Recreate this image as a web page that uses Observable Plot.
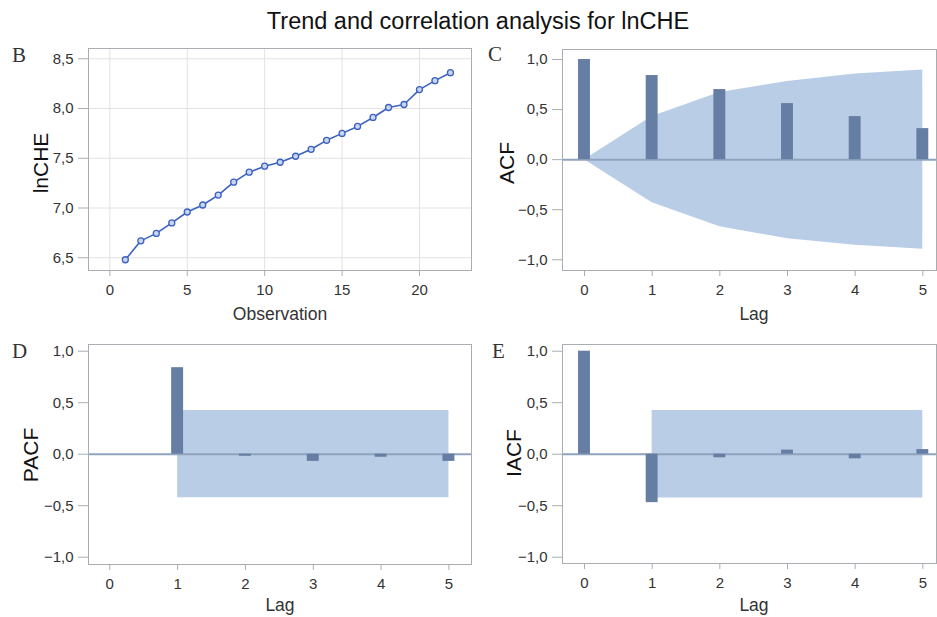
<!DOCTYPE html>
<html><head><meta charset="utf-8">
<script src="https://cdn.jsdelivr.net/npm/d3@7"></script>
<script src="https://cdn.jsdelivr.net/npm/@observablehq/plot@0.6"></script>
<style>
body{margin:0;background:#fff;}
#root{position:relative;width:937px;height:617px;overflow:hidden;background:#fff;}
.panel{position:absolute;}
#overlay{position:absolute;left:0;top:0;pointer-events:none;}
</style>
</head><body>
<div id="root">
  <div class="panel" id="pB" style="left:0px;top:35px"></div>
  <div class="panel" id="pC" style="left:470px;top:35px"></div>
  <div class="panel" id="pD" style="left:0px;top:330px"></div>
  <div class="panel" id="pE" style="left:470px;top:330px"></div>
</div>
<script>
// ---- data ----
const observation = [1,2,3,4,5,6,7,8,9,10,11,12,13,14,15,16,17,18,19,20,21,22];
const lnCHE = [6.48,6.67,6.745,6.85,6.96,7.03,7.13,7.26,7.36,7.42,7.46,7.52,7.59,7.68,7.75,7.82,7.91,8.01,8.04,8.19,8.28,8.36];

const acfLags = [0,1,2,3,4,5];
const acfValues = [1.0,0.84,0.70,0.56,0.43,0.31];
const acfBandUpper = [0,0.43,0.67,0.78,0.855,0.895];
const acfBandLower = [0,-0.43,-0.67,-0.79,-0.855,-0.895];

const pacfLags = [1,2,3,4,5];
const pacfValues = [0.84,-0.02,-0.07,-0.03,-0.07];
const pacfBand = [0.424,0.424,0.424,0.424,0.424];

const iacfLags = [0,1,2,3,4,5];
const iacfValues = [1.0,-0.47,-0.035,0.04,-0.045,0.045];
const iacfBandLags = [1,2,3,4,5];
const iacfBand = [0.424,0.424,0.424,0.424,0.424];

const obsTicks = [0,5,10,15,20];
const lnTicks = [6.5,7.0,7.5,8.0,8.5];
const lagTicks = [0,1,2,3,4,5];
const corrTicks = [-1,-0.5,0,0.5,1];

// ---- styles ----
const fmt = d3.formatLocale({decimal:",",thousands:".",grouping:[3],currency:["",""],minus:"\u2212"}).format(".1f");
const frameColor = "#a9adb2";
const barColor = "#667ea3";
const bandColor = "#b9cee6";
const zeroColor = "#90a3bd";
const lineColor = "#3c62c0";
const svgStyle = {background:"transparent", fontFamily:"'Liberation Sans', Arial, sans-serif", fontSize:"15px", color:"#333", overflow:"visible"};

// ---- panel B ----
const tableB = observation.map((o,i)=>({o, v: lnCHE[i]}));
const plotB = Plot.plot({
  width: 472, height: 295,
  marginLeft: 88, marginRight: 1, marginTop: 13, marginBottom: 60,
  style: svgStyle,
  x: {domain: [-1.38, 23.36]},
  y: {domain: [6.372, 8.603]},
  marks: [
    Plot.gridX(obsTicks, {stroke:"#e2e2e2", strokeOpacity:1}),
    Plot.gridY(lnTicks, {stroke:"#e2e2e2", strokeOpacity:1}),
    Plot.frame({stroke: frameColor}),
    Plot.axisX({ticks: obsTicks, tickFormat: d=>String(d), tickSize: 6, tickPadding: 8, stroke: frameColor, fill:"#333", label: null}),
    Plot.axisY({ticks: lnTicks, tickFormat: fmt, tickSize: 10, tickPadding: 5, stroke: frameColor, fill:"#333", label: null}),
    Plot.line(tableB, {x:"o", y:"v", stroke: lineColor, strokeWidth: 1.6}),
    Plot.dot(tableB, {x:"o", y:"v", r: 3, stroke: lineColor, strokeWidth: 1.3, fill:"#c9d5f2"})
  ]
});
document.getElementById("pB").appendChild(plotB);

// ---- correlation panels ----
function corrPlot({width, height, mL, mR, mT, mB, xDomain, yDomain, bars, band}) {
  return Plot.plot({
    width, height,
    marginLeft: mL, marginRight: mR, marginTop: mT, marginBottom: mB,
    style: svgStyle,
    x: {domain: xDomain},
    y: {domain: yDomain},
    marks: [
      Plot.areaY(band, {x:"lag", y1:"lo", y2:"hi", fill: bandColor, fillOpacity: 1, curve:"linear"}),
      Plot.ruleY([0], {stroke: zeroColor, strokeWidth: 2}),
      Plot.rect(bars, {x1: d=>d.lag-0.088, x2: d=>d.lag+0.088, y1: ()=>0, y2:"v", fill: barColor}),
      Plot.frame({stroke: frameColor}),
      Plot.axisX({ticks: lagTicks, tickFormat: d=>String(d), tickSize: 6, tickPadding: 8, stroke: frameColor, fill:"#333", label: null}),
      Plot.axisY({ticks: corrTicks, tickFormat: fmt, tickSize: 10, tickPadding: 5, stroke: frameColor, fill:"#333", label: null})
    ]
  });
}

const plotC = corrPlot({
  width: 467, height: 295, mL: 92, mR: 1, mT: 14, mB: 60,
  xDomain: [-0.325, 5.202], yDomain: [-1.107, 1.1],
  bars: acfLags.map((l,i)=>({lag:l, v: acfValues[i]})),
  band: acfLags.map((l,i)=>({lag:l, lo: acfBandLower[i], hi: acfBandUpper[i]}))
});
document.getElementById("pC").appendChild(plotC);

const plotD = corrPlot({
  width: 472, height: 287, mL: 88, mR: 1, mT: 14, mB: 53,
  xDomain: [-0.314, 5.333], yDomain: [-1.071, 1.065],
  bars: pacfLags.map((l,i)=>({lag:l, v: pacfValues[i]})),
  band: pacfLags.map((l,i)=>({lag:l, lo: -pacfBand[i], hi: pacfBand[i]}))
});
document.getElementById("pD").appendChild(plotD);

const plotE = corrPlot({
  width: 467, height: 287, mL: 92, mR: 1, mT: 14, mB: 54,
  xDomain: [-0.325, 5.202], yDomain: [-1.061, 1.065],
  bars: iacfLags.map((l,i)=>({lag:l, v: iacfValues[i]})),
  band: iacfBandLags.map((l,i)=>({lag:l, lo: -iacfBand[i], hi: iacfBand[i]}))
});
document.getElementById("pE").appendChild(plotE);

// ---- text overlay ----
const ns = "http://www.w3.org/2000/svg";
const ov = document.createElementNS(ns, "svg");
ov.setAttribute("id","overlay"); ov.setAttribute("width",937); ov.setAttribute("height",617);
function txt(s, x, y, opts={}) {
  const t = document.createElementNS(ns, "text");
  t.textContent = s;
  t.setAttribute("x", x); t.setAttribute("y", y);
  t.setAttribute("font-family", opts.family || "'Liberation Sans', Arial, sans-serif");
  t.setAttribute("font-size", opts.size || 16);
  t.setAttribute("fill", opts.fill || "#222");
  t.setAttribute("text-anchor", opts.anchor || "middle");
  if (opts.rotate) t.setAttribute("transform", `rotate(-90 ${x} ${y})`);
  ov.appendChild(t);
}
txt("Trend and correlation analysis for lnCHE", 478, 29, {size: 23.5, fill:"#111"});
txt("B", 12, 62, {family:"'Liberation Serif', serif", size: 21, anchor:"start", fill:"#333"});
txt("C", 488, 61, {family:"'Liberation Serif', serif", size: 21, anchor:"start", fill:"#333"});
txt("D", 12, 358, {family:"'Liberation Serif', serif", size: 21, anchor:"start", fill:"#333"});
txt("E", 492, 358, {family:"'Liberation Serif', serif", size: 21, anchor:"start", fill:"#333"});
txt("lnCHE", 48, 163, {size: 21, rotate: true, fill:"#111"});
txt("ACF", 514, 163, {size: 21, rotate: true, fill:"#111"});
txt("PACF", 38, 455, {size: 21, rotate: true, fill:"#111"});
txt("IACF", 521, 453, {size: 21, rotate: true, fill:"#111"});
txt("Observation", 280, 320, {size: 17.5, fill:"#333"});
txt("Lag", 754, 320, {size: 17.5, fill:"#333"});
txt("Lag", 280, 611, {size: 17.5, fill:"#333"});
txt("Lag", 754, 611, {size: 17.5, fill:"#333"});
document.getElementById("root").appendChild(ov);
</script>
</body></html>
